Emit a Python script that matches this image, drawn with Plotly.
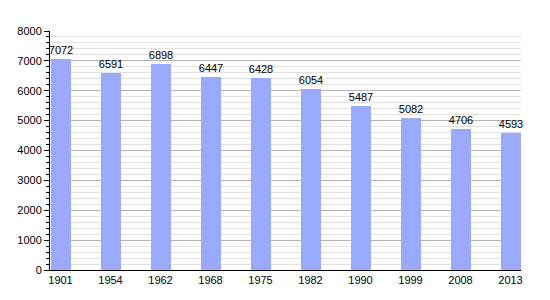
import plotly.graph_objects as go

years = ["1901", "1954", "1962", "1968", "1975", "1982", "1990", "1999", "2008", "2013"]
population = [7072, 6591, 6898, 6447, 6428, 6054, 5487, 5082, 4706, 4593]
y_ticks = [0, 1000, 2000, 3000, 4000, 5000, 6000, 7000, 8000]

positions = list(range(len(years)))

fig = go.Figure(
    go.Bar(
        x=positions,
        y=population,
        width=0.4,
        marker=dict(color="#99aaff", line=dict(width=0)),
        text=[str(v) for v in population],
        textposition="outside",
        textfont=dict(color="black", size=11),
        constraintext="none",
        cliponaxis=False,
    )
)

fig.update_layout(
    width=550,
    height=300,
    margin=dict(l=50, r=29, t=31, b=30),
    paper_bgcolor="white",
    plot_bgcolor="white",
    font=dict(family="Liberation Sans, Arial, sans-serif", size=11, color="black"),
    showlegend=False,
    bargap=0,
)

fig.update_xaxes(
    tickvals=positions,
    ticktext=years,
    range=[-0.21, 9.21],
    showline=True,
    linecolor="black",
    linewidth=1,
    ticks="",
    showgrid=False,
    zeroline=False,
)

fig.update_yaxes(
    range=[0, 8000],
    tickvals=y_ticks,
    showline=True,
    linecolor="black",
    linewidth=1,
    ticks="outside",
    ticklen=5,
    tickcolor="black",
    showgrid=True,
    gridcolor="#b4b4b4",
    gridwidth=1,
    zeroline=False,
    minor=dict(
        dtick=200,
        showgrid=True,
        gridcolor="#e2e2e2",
        ticks="outside",
        ticklen=3,
        tickcolor="black",
    ),
)

fig.write_html("out.html")
